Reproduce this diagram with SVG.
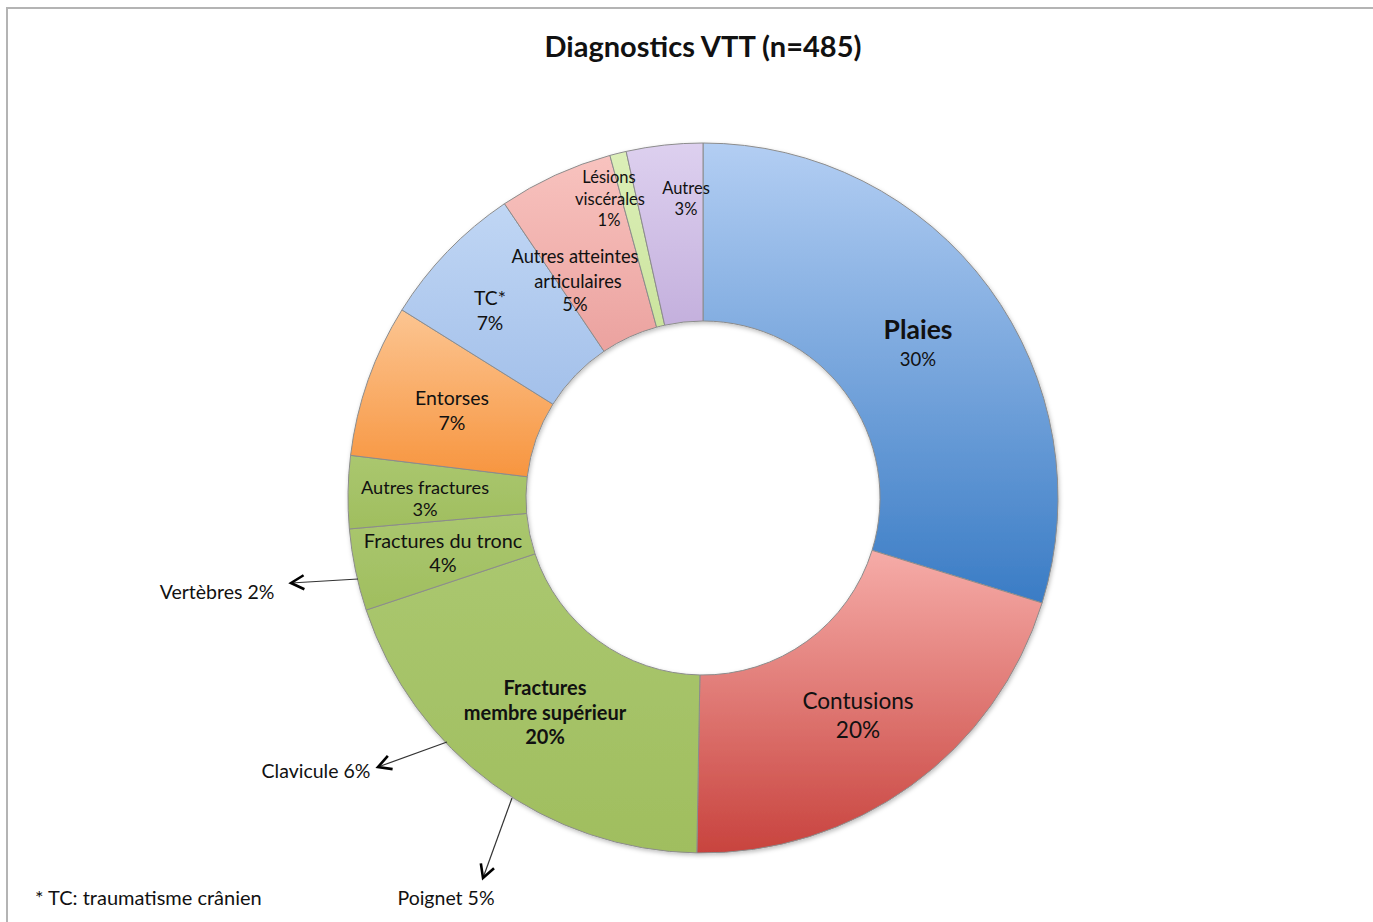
<svg xmlns="http://www.w3.org/2000/svg" width="1373" height="922" viewBox="0 0 1373 922">
<style>
text{font-family:Lato,"Open Sans","Liberation Sans",sans-serif;fill:#111;text-anchor:middle}
.s{stroke:#8c8c8c;stroke-width:1}
.b{font-weight:bold}
.lead{stroke:#333;stroke-width:1.2;fill:none}
</style>
<defs>
<linearGradient id="gPl" x1="0" y1="0" x2="0" y2="1"><stop offset="0" stop-color="#b3cef3"/><stop offset="1" stop-color="#3a7cc5"/></linearGradient>
<linearGradient id="gCo" x1="0" y1="0" x2="0" y2="1"><stop offset="0" stop-color="#f6aca8"/><stop offset="1" stop-color="#c8433e"/></linearGradient>
<linearGradient id="gGr" x1="0" y1="0" x2="0" y2="1"><stop offset="0" stop-color="#aac76f"/><stop offset="1" stop-color="#a0be5f"/></linearGradient>
<linearGradient id="gEn" x1="0" y1="0" x2="0" y2="1"><stop offset="0" stop-color="#fcc592"/><stop offset="1" stop-color="#f7953f"/></linearGradient>
<linearGradient id="gTC" x1="0" y1="0" x2="0" y2="1"><stop offset="0" stop-color="#c0d6f4"/><stop offset="1" stop-color="#a3c0ea"/></linearGradient>
<linearGradient id="gAA" x1="0" y1="0" x2="0" y2="1"><stop offset="0" stop-color="#f8c3bf"/><stop offset="1" stop-color="#eba29f"/></linearGradient>
<linearGradient id="gLV" x1="0" y1="0" x2="0" y2="1"><stop offset="0" stop-color="#dcefb8"/><stop offset="1" stop-color="#cbe49e"/></linearGradient>
<linearGradient id="gAu" x1="0" y1="0" x2="0" y2="1"><stop offset="0" stop-color="#ddd0ef"/><stop offset="1" stop-color="#c4b0dd"/></linearGradient>
<filter id="sh" x="-10%" y="-10%" width="120%" height="120%"><feDropShadow dx="1" dy="2" stdDeviation="2" flood-color="#000" flood-opacity="0.25"/></filter>
<marker id="chev" markerUnits="userSpaceOnUse" markerWidth="20" markerHeight="20" refX="0" refY="0" orient="auto" overflow="visible"><path d="M-13,-7 L0,0 L-13,7" fill="none" stroke="#000" stroke-width="2.6" stroke-linejoin="miter"/></marker>
</defs>
<rect x="0" y="0" width="1373" height="922" fill="#fff"/>
<rect x="7" y="8" width="1420" height="1000" fill="#fff" stroke="#b4b4b4" stroke-width="2"/>
<text x="703" y="57" class="b" font-size="29">Diagnostics VTT (n=485)</text>
<g id="donut" filter="url(#sh)">
<g id="plaies"><path class="s" fill="url(#gPl)" d="M703,143 A355,355 0 0 1 1042.12,602.98 L872.08,550.34 A177,177 0 0 0 703,321 Z"/></g>
<g id="contusions"><path class="s" fill="url(#gCo)" d="M1042.12,602.98 A355,355 0 0 1 696.8,852.95 L699.91,674.97 A177,177 0 0 0 872.08,550.34 Z"/></g>
<g id="fms"><path class="s" fill="url(#gGr)" d="M696.8,852.95 A355,355 0 0 1 366.15,610.06 L535.05,553.87 A177,177 0 0 0 699.91,674.97 Z"/></g>
<g id="tronc"><path class="s" fill="url(#gGr)" d="M366.15,610.06 A355,355 0 0 1 349.35,528.94 L526.67,513.43 A177,177 0 0 0 535.05,553.87 Z"/></g>
<g id="autresfr"><path class="s" fill="url(#gGr)" d="M349.35,528.94 A355,355 0 0 1 350.57,455.35 L527.28,476.74 A177,177 0 0 0 526.67,513.43 Z"/></g>
<g id="entorses"><path class="s" fill="url(#gEn)" d="M350.57,455.35 A355,355 0 0 1 401.94,309.88 L552.9,404.2 A177,177 0 0 0 527.28,476.74 Z"/></g>
<g id="tc"><path class="s" fill="url(#gTC)" d="M401.94,309.88 A355,355 0 0 1 504.49,203.69 L604.02,351.26 A177,177 0 0 0 552.9,404.2 Z"/></g>
<g id="aaa"><path class="s" fill="url(#gAA)" d="M504.49,203.69 A355,355 0 0 1 609.92,155.42 L656.59,327.19 A177,177 0 0 0 604.02,351.26 Z"/></g>
<g id="lesions"><path class="s" fill="url(#gLV)" d="M609.92,155.42 A355,355 0 0 1 626.16,151.41 L664.69,325.19 A177,177 0 0 0 656.59,327.19 Z"/></g>
<g id="autres"><path class="s" fill="url(#gAu)" d="M626.16,151.41 A355,355 0 0 1 703,143 L703,321 A177,177 0 0 0 664.69,325.19 Z"/></g>
</g>
<g id="labels">
<text font-size="16.5"><tspan x="609" y="183">Lésions</tspan><tspan x="610" y="205">viscérales</tspan><tspan x="609" y="226">1%</tspan></text>
<text font-size="16.5"><tspan x="686" y="194">Autres</tspan><tspan x="686" y="215">3%</tspan></text>
<text font-size="18.3"><tspan x="575" y="263">Autres atteintes</tspan><tspan x="578" y="288">articulaires</tspan><tspan x="575" y="311">5%</tspan></text>
<text font-size="19.3"><tspan x="490" y="305">TC*</tspan><tspan x="490" y="330">7%</tspan></text>
<text font-size="19.5"><tspan x="452" y="405">Entorses</tspan><tspan x="452" y="430">7%</tspan></text>
<text font-size="18.2"><tspan x="425" y="494">Autres fractures</tspan><tspan x="425" y="516">3%</tspan></text>
<text font-size="19.8"><tspan x="443" y="548">Fractures du tronc</tspan><tspan x="443" y="572">4%</tspan></text>
<text><tspan x="918" y="339" class="b" font-size="26.5">Plaies</tspan><tspan x="918" y="366" font-size="18.5">30%</tspan></text>
<text font-size="22.6"><tspan x="858" y="709">Contusions</tspan><tspan x="858" y="738">20%</tspan></text>
<text class="b" font-size="20"><tspan x="545" y="695">Fractures</tspan><tspan x="545" y="720">membre supérieur</tspan><tspan x="545" y="744">20%</tspan></text>
</g>
<g id="connectors">
<line class="lead" x1="358" y1="579" x2="291" y2="583" marker-end="url(#chev)"/>
<line class="lead" x1="447" y1="742" x2="378" y2="767" marker-end="url(#chev)"/>
<line class="lead" x1="512" y1="798" x2="483" y2="878" marker-end="url(#chev)"/>
</g>
<g id="callouts">
<text font-size="19.5" x="217" y="599">Vertèbres 2%</text>
<text font-size="19.5" x="316" y="778">Clavicule 6%</text>
<text font-size="19.5" x="446" y="905">Poignet 5%</text>
<text font-size="20" x="35" y="905" style="text-anchor:start">* TC: traumatisme crânien</text>
</g>
</svg>
